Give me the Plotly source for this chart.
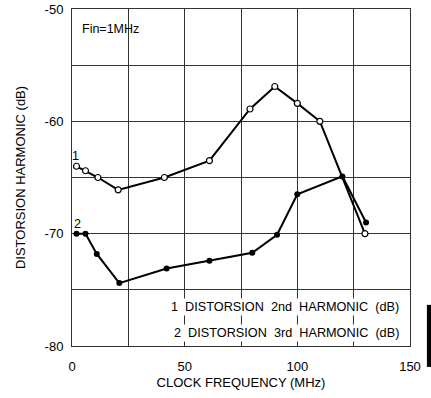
import plotly.graph_objects as go

clock_mhz_2nd = [2, 6, 11.5, 20.5, 41, 61, 79, 90, 100, 110, 130]
harm_2nd_db = [-64.0, -64.4, -65.0, -66.1, -65.0, -63.5, -58.9, -56.9, -58.4, -60.0, -70.0]
clock_mhz_3rd = [2, 6, 11, 21, 42, 61, 80, 91, 100, 120, 130.5]
harm_3rd_db = [-70.0, -70.0, -71.8, -74.4, -73.1, -72.4, -71.7, -70.1, -66.5, -64.9, -69.0]

x_ticks = [0, 50, 100, 150]
y_ticks = [-80, -70, -60, -50]
legend_lines = ["1  DISTORSION  2nd  HARMONIC  (dB)", "2  DISTORSION  3rd  HARMONIC  (dB)"]

font = "Liberation Sans, Arial, sans-serif"
fig = go.Figure()
fig.add_trace(go.Scatter(x=clock_mhz_2nd, y=harm_2nd_db, mode="lines+markers",
                         line=dict(color="black", width=2),
                         marker=dict(symbol="circle", size=6, color="white",
                                     line=dict(color="black", width=1.2))))
fig.add_trace(go.Scatter(x=clock_mhz_3rd, y=harm_3rd_db, mode="lines+markers",
                         line=dict(color="black", width=2),
                         marker=dict(symbol="circle", size=6, color="black")))

fig.add_annotation(x=clock_mhz_2nd[0], y=harm_2nd_db[0], text="1", showarrow=False,
                   yshift=10, xshift=-1, font=dict(size=12.5, color="black", family=font))
fig.add_annotation(x=clock_mhz_3rd[0], y=harm_3rd_db[0], text="2", showarrow=False,
                   yshift=10, xshift=1, font=dict(size=12.5, color="black", family=font))
fig.add_annotation(x=3.5, y=-51.8, text="Fin=1MHz", showarrow=False, xanchor="left",
                   font=dict(size=12.5, color="black", family=font))
for i, t in enumerate(legend_lines):
    fig.add_annotation(x=146, y=-76.5 - i * 2.35, text=t, showarrow=False, xanchor="right",
                       bgcolor="white", font=dict(size=12.7, color="black", family=font))

# scanning artifact bar at right edge
fig.add_shape(type="rect", xref="paper", yref="paper", x0=1.05, x1=1.065, y0=0.122, y1=-0.062,
              fillcolor="black", line=dict(width=0))

fig.update_xaxes(range=[0, 150], tickvals=x_ticks, showgrid=True, gridcolor="#333",
                 gridwidth=1, minor=dict(dtick=25, showgrid=True, gridcolor="#333", gridwidth=1),
                 showline=True, linecolor="#333", linewidth=1, mirror=True, zeroline=False,
                 automargin=False,
                 ticks="", ticklabelstandoff=8, tickfont=dict(size=13, color="black", family=font),
                 title=dict(text="CLOCK FREQUENCY (MHz)", font=dict(size=13, color="black", family=font),
                            standoff=5))
fig.update_yaxes(range=[-80, -50], tickvals=y_ticks, ticktext=[str(v) for v in y_ticks],
                 showgrid=True, gridcolor="#333", gridwidth=1,
                 minor=dict(dtick=5, showgrid=True, gridcolor="#333", gridwidth=1),
                 showline=True, linecolor="#333", linewidth=1, mirror=True, zeroline=False,
                 automargin=False,
                 ticks="", ticklabelstandoff=5, tickfont=dict(size=13, color="black", family=font),
                 title=dict(text="DISTORSION HARMONIC (dB)", font=dict(size=13, color="black", family=font),
                            standoff=16))
fig.update_layout(width=431, height=398, margin=dict(l=72, r=21, t=9, b=52, autoexpand=False),
                  paper_bgcolor="white", plot_bgcolor="white", showlegend=False)
fig.write_html("out.html")
